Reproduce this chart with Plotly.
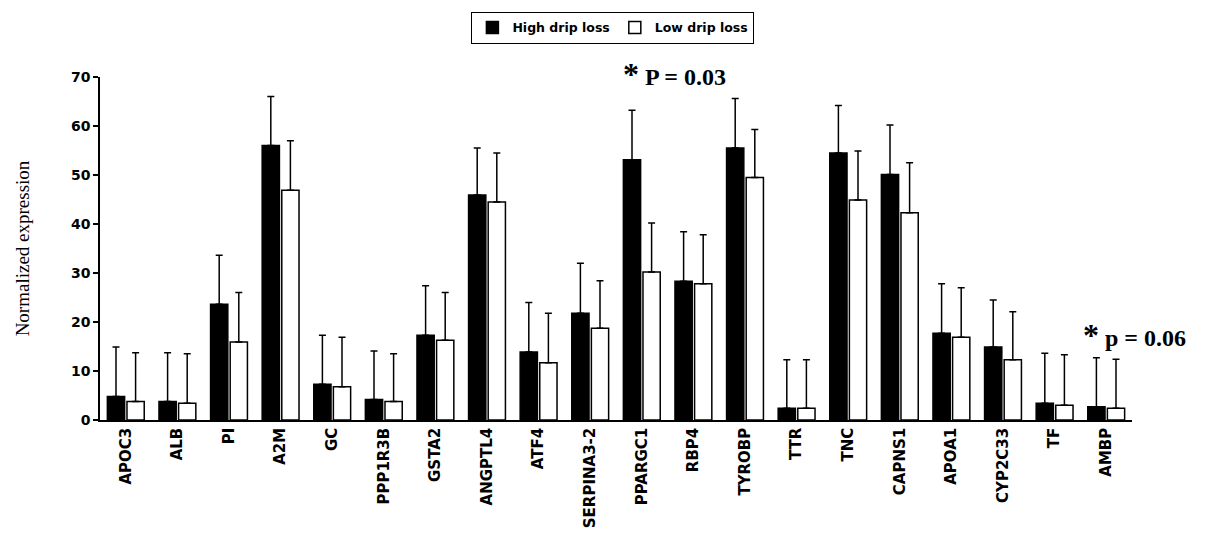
import plotly.graph_objects as go

genes = ["APOC3", "ALB", "PI", "A2M", "GC", "PPP1R3B", "GSTA2", "ANGPTL4", "ATF4",
         "SERPINA3-2", "PPARGC1", "RBP4", "TYROBP", "TTR", "TNC", "CAPNS1", "APOA1",
         "CYP2C33", "TF", "AMBP"]
high_drip = [4.8, 3.8, 23.6, 56.0, 7.3, 4.2, 17.3, 45.9, 13.9, 21.8,
             53.1, 28.3, 55.5, 2.4, 54.5, 50.1, 17.7, 14.9, 3.4, 2.7]
high_err = [10.1, 9.9, 10.0, 10.0, 10.0, 9.9, 10.1, 9.6, 10.1, 10.2,
            10.1, 10.1, 10.1, 9.9, 9.7, 10.1, 10.1, 9.6, 10.2, 10.0]
low_drip = [3.8, 3.4, 15.9, 46.9, 6.8, 3.8, 16.3, 44.5, 11.7, 18.7,
            30.2, 27.8, 49.5, 2.4, 44.9, 42.3, 16.9, 12.3, 3.0, 2.4]
low_err = [9.9, 10.1, 10.1, 10.1, 10.1, 9.7, 9.7, 10.0, 10.1, 9.7,
           10.0, 10.0, 9.8, 9.9, 10.0, 10.2, 10.1, 9.8, 10.3, 10.0]
y_ticks = [0, 10, 20, 30, 40, 50, 60, 70]

fig = go.Figure()
fig.add_trace(go.Bar(
    x=genes, y=high_drip, name="<b>High drip loss</b>",
    marker=dict(color="black", line=dict(color="black", width=1.5)),
    error_y=dict(type="data", array=high_err, symmetric=False,
                 arrayminus=[0] * len(high_err), color="black", thickness=1.5, width=3.5),
))
fig.add_trace(go.Bar(
    x=genes, y=low_drip, name="<b>Low drip loss</b>",
    marker=dict(color="white", line=dict(color="black", width=1.5)),
    error_y=dict(type="data", array=low_err, symmetric=False,
                 arrayminus=[0] * len(low_err), color="black", thickness=1.5, width=3.5),
))

serif = "Liberation Serif, Times New Roman, serif"
fig.add_annotation(
    x=0.505, xref="paper", y=1.009, yref="paper", xanchor="left", yanchor="middle",
    text="<span style='font-size:32px'>*</span> P = 0.03",
    font=dict(family=serif, size=24, color="black", weight="bold"),
    showarrow=False,
)
fig.add_annotation(
    x=0.951, xref="paper", y=0.247, yref="paper", xanchor="left", yanchor="middle",
    text="<span style='font-size:32px'>*</span> p = 0.06",
    font=dict(family=serif, size=24, color="black", weight="bold"),
    showarrow=False,
)

fig.update_layout(
    width=1207, height=535,
    margin=dict(l=100, r=75, t=72, b=115),
    plot_bgcolor="white", paper_bgcolor="white",
    barmode="group", bargap=0.24, bargroupgap=0.12,
    font=dict(family="DejaVu Sans, Arial, sans-serif", color="black"),
    showlegend=True,
    legend=dict(orientation="h", x=0.497, xanchor="center", y=1.19, yanchor="top",
                bordercolor="black", borderwidth=1, bgcolor="white",
                font=dict(size=12.5, family="DejaVu Sans, Arial, sans-serif"),
                itemwidth=30, tracegroupgap=0),
    xaxis=dict(showline=True, linecolor="black", linewidth=1.5, ticks="",
               tickangle=-90, tickfont=dict(size=15, weight="bold"),
               showgrid=False, zeroline=False, automargin=False),
    yaxis=dict(range=[0, 70], tickvals=y_ticks, showline=True, linecolor="black",
               linewidth=1.5, ticks="outside", ticklen=5, tickwidth=1.5,
               tickcolor="black", tickfont=dict(size=14, weight="bold"),
               showgrid=False, zeroline=False, automargin=False,
               title=dict(text="Normalized expression",
                          font=dict(family=serif, size=19), standoff=36)),
)

fig.write_html("out.html")
